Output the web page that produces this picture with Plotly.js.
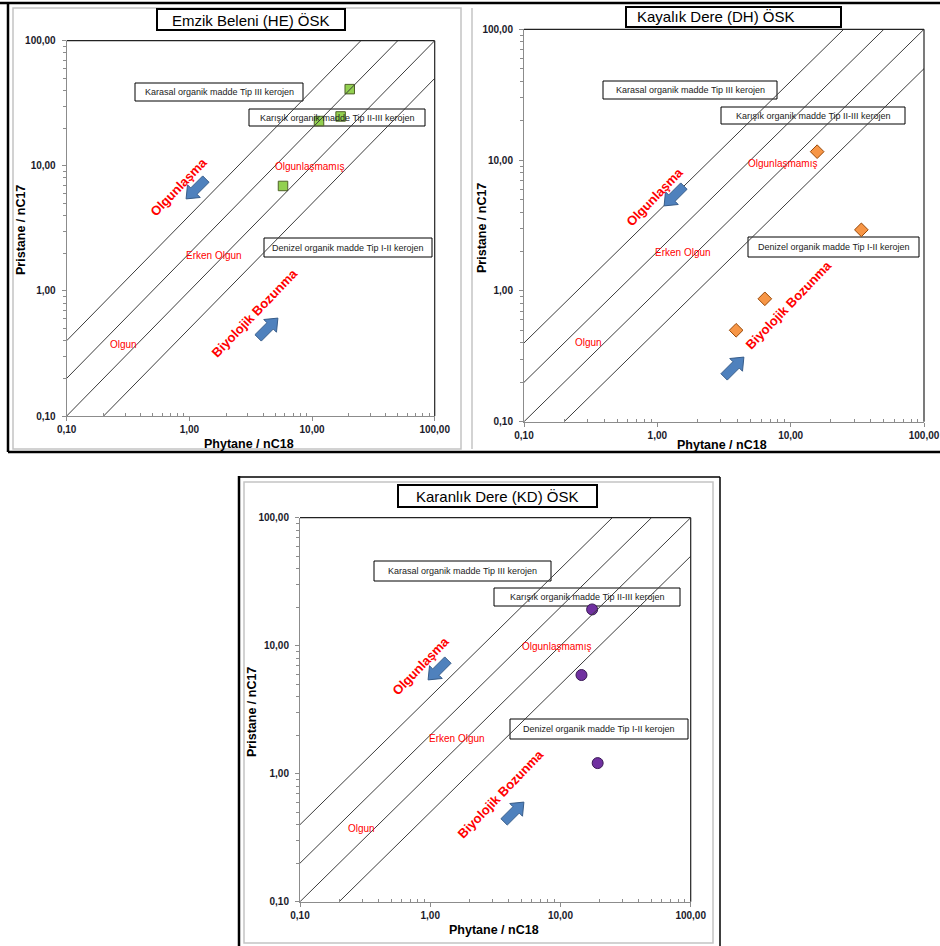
<!DOCTYPE html>
<html><head><meta charset="utf-8">
<script src="https://cdn.plot.ly/plotly-3.0.1.min.js"></script>
<style>html,body{margin:0;padding:0;background:#fff}#chart{width:940px;height:946px}</style>
</head><body><div id="chart"></div>
<script>
// ---------- data ----------
const panelTitles = ["Emzik Beleni (HE) ÖSK", "Kayalık Dere (DH) ÖSK", "Karanlık Dere (KD) ÖSK"];
const HE_phytane = [20.3, 17.1, 11.4, 5.8];
const HE_pristane = [41.0, 24.8, 22.8, 6.9];
const DH_phytane = [15.8, 33.9, 6.4, 3.9];
const DH_pristane = [11.6, 2.93, 0.87, 0.50];
const KD_phytane = [17.5, 14.5, 19.3];
const KD_pristane = [19.2, 5.9, 1.21];
const boundaryRatios = [4, 2, 1, 0.5];           // Pr/nC17 = k * Ph/nC18
const tickValues = [0.1, 1, 10, 100];
const tickLabels = ["0,10", "1,00", "10,00", "100,00"];
const xTitle = "Phytane / nC18";
const yTitle = "Pristane / nC17";
const boxLabels = ["Karasal organik madde Tip III kerojen", "Karışık organik madde Tip II-III kerojen", "Denizel organik madde Tip I-II kerojen"];
const zoneLabels = ["Olgunlaşmamış", "Erken Olgun", "Olgun"];
const trendLabels = ["Olgunlaşma", "Biyolojik Bozunma"];

// ---------- helpers ----------
const W = 940, H = 946;
const px = x => x / W, py = y => 1 - y / H;
const minorVals = [];
[0.1, 1, 10].forEach(d => { for (let k = 2; k <= 9; k++) minorVals.push(+(d * k).toFixed(3)); });

const panels = [
  {sx: "", phy: HE_phytane, pri: HE_pristane, sym: "square", size: 9.5, col: "#92D050", lc: "#4F6228",
   dom: {x: [66.7, 434.7], y: [40.7, 416]},
   title: {box: [157, 9, 345, 30], cx: 251, cy: 20},
   boxes: [[135, 83, 303, 101], [249, 109, 425, 126], [264, 238, 432, 257]],
   zones: [[309, 166], [214, 255], [123, 344]],
   trend: [[178, 187], [254, 313]],
   arrows: [[196, 189], [268, 328]],
   xt: [249, 444], yt: [21, 230]},
  {sx: "2", phy: DH_phytane, pri: DH_pristane, sym: "diamond", size: 10.5, col: "#F79646", lc: "#984807",
   dom: {x: [524, 924], y: [29.3, 421.7]},
   title: {box: [626, 7, 841, 27], cx: 716, cy: 17},
   boxes: [[603, 81, 777, 99], [721, 107, 905, 124], [748, 237, 919, 257]],
   zones: [[782, 163], [683, 252], [588, 342]],
   trend: [[654, 197], [788, 305]],
   arrows: [[674, 196], [734, 367]],
   xt: [722, 445], yt: [482, 228]},
  {sx: "3", phy: KD_phytane, pri: KD_pristane, sym: "circle", size: 11, col: "#7030A0", lc: "#3A1A55",
   dom: {x: [300, 690.7], y: [517.7, 901.7]},
   title: {box: [398, 485, 597, 507], cx: 497, cy: 496},
   boxes: [[374, 561, 551, 581], [494, 588, 680, 606], [510, 719, 688, 739]],
   zones: [[556, 646], [457, 738], [361, 828]],
   trend: [[420, 666], [500, 794]],
   arrows: [[438, 670], [514, 812]],
   xt: [494, 930], yt: [252, 712]}
];

const traces = [], shapes = [], annotations = [];
const layout = {
  width: W, height: H, margin: {l: 0, r: 0, t: 0, b: 0},
  paper_bgcolor: "#fff", plot_bgcolor: "#fff", showlegend: false,
  font: {family: "Arial, Liberation Sans, sans-serif", color: "#000"},
  shapes, annotations
};

function blockArrow(cx, cy, dirx, diry) {
  const len = 28, sw = 4.5, hw = 9, hl = 11;
  const n = Math.hypot(dirx, diry), ux = dirx / n, uy = diry / n, vx = -uy, vy = ux;
  const tail = [cx - ux * len / 2, cy - uy * len / 2], tip = [cx + ux * len / 2, cy + uy * len / 2];
  const hb = [tip[0] - ux * hl, tip[1] - uy * hl];
  const pts = [
    [tail[0] + vx * sw, tail[1] + vy * sw], [hb[0] + vx * sw, hb[1] + vy * sw], [hb[0] + vx * hw, hb[1] + vy * hw],
    tip, [hb[0] - vx * hw, hb[1] - vy * hw], [hb[0] - vx * sw, hb[1] - vy * sw], [tail[0] - vx * sw, tail[1] - vy * sw]
  ];
  return "M" + pts.map(p => px(p[0]).toFixed(5) + "," + py(p[1]).toFixed(5)).join(" L") + " Z";
}

// outer frames
const frameLines = [
  [[0, 3], [940, 3], "#000", 2.5], [[8, 452], [940, 452], "#000", 2.5], [[8, 3], [8, 452], "#000", 2.5],
  [[472, 8], [472, 449], "#c4c4c4", 1.5],
  [[239, 476], [239, 946], "#000", 2.5], [[239, 477], [720, 477], "#000", 1.5], [[720, 477], [720, 946], "#000", 1.5]
];
frameLines.forEach(f => shapes.push({type: "line", xref: "paper", yref: "paper", x0: px(f[0][0]), y0: py(f[0][1]), x1: px(f[1][0]), y1: py(f[1][1]), line: {color: f[2], width: f[3]}, layer: "below"}));
[[13, 8, 461, 449], [244, 482, 713, 943]].forEach(r => shapes.push({type: "rect", xref: "paper", yref: "paper", x0: px(r[0]), x1: px(r[2]), y0: py(r[3]), y1: py(r[1]), line: {color: "#c4c4c4", width: 1.5}, layer: "below"}));

panels.forEach((p, i) => {
  const xa = "x" + p.sx, ya = "y" + p.sx;
  const axBase = {
    type: "log", range: [-1, 2], tickmode: "array", tickvals: tickValues, ticktext: tickLabels,
    showgrid: false, zeroline: false, showline: true, linecolor: "#8c8c8c", linewidth: 1,
    ticks: "outside", ticklen: 4, tickcolor: "#8c8c8c",
    tickfont: {family: "Arial, Liberation Sans, sans-serif", size: 10, weight: "bold", color: "#1a1a2a"},
    fixedrange: true
  };
  layout["xaxis" + p.sx] = Object.assign({}, axBase, {
    domain: [px(p.dom.x[0]), px(p.dom.x[1])], anchor: ya,
    minor: {tickmode: "array", tickvals: minorVals, ticks: "inside", ticklen: 3, tickcolor: "#8c8c8c", showgrid: false}
  });
  layout["yaxis" + p.sx] = Object.assign({}, axBase, {
    domain: [py(p.dom.y[1]), py(p.dom.y[0])], anchor: xa, ticklabelstandoff: 4,
    minor: {tickmode: "array", tickvals: minorVals, ticks: "outside", ticklen: 3, tickcolor: "#8c8c8c", showgrid: false}
  });

  // sample points
  traces.push({type: "scatter", mode: "markers", x: p.phy, y: p.pri, xaxis: xa, yaxis: ya,
    marker: {symbol: p.sym, size: p.size, color: p.col, line: {color: p.lc, width: 1}}, hoverinfo: "x+y"});
  // boundary lines y = k x, clipped to the axes range
  boundaryRatios.forEach(k => {
    const x0 = Math.max(0.1, 0.1 / k), x1 = Math.min(100, 100 / k);
    traces.push({type: "scatter", mode: "lines", x: [x0, x1], y: [k * x0, k * x1], xaxis: xa, yaxis: ya,
      line: {color: "#3c3c3c", width: 1}, hoverinfo: "skip"});
  });

  // frame top/right
  shapes.push({type: "line", xref: xa + " domain", yref: ya + " domain", x0: 0, x1: 1, y0: 1, y1: 1, line: {color: "#222", width: 1.2}});
  shapes.push({type: "line", xref: xa + " domain", yref: ya + " domain", x0: 1, x1: 1, y0: 0, y1: 1, line: {color: "#222", width: 1.2}});

  // title box
  const tb = p.title.box;
  shapes.push({type: "rect", xref: "paper", yref: "paper", x0: px(tb[0]), x1: px(tb[2]), y0: py(tb[3]), y1: py(tb[1]), line: {color: "#000", width: 2}, fillcolor: "#fff"});
  annotations.push({xref: "paper", yref: "paper", x: px(p.title.cx), y: py(p.title.cy), text: panelTitles[i], showarrow: false,
    font: {size: 15, color: "#000"}, xanchor: "center", yanchor: "middle"});

  // kerogen boxes
  p.boxes.forEach((b, j) => {
    shapes.push({type: "rect", xref: "paper", yref: "paper", x0: px(b[0]), x1: px(b[2]), y0: py(b[3]), y1: py(b[1]), line: {color: "#000", width: 1}, fillcolor: "#fff", layer: "below"});
    annotations.push({xref: "paper", yref: "paper", x: px((b[0] + b[2]) / 2), y: py((b[1] + b[3]) / 2), text: boxLabels[j], showarrow: false,
      font: {size: 9, color: "#222"}, xanchor: "center", yanchor: "middle"});
  });
  // zone labels
  p.zones.forEach((z, j) => annotations.push({xref: "paper", yref: "paper", x: px(z[0]), y: py(z[1]), text: zoneLabels[j], showarrow: false,
    font: {size: 10, color: "#FF0000"}, xanchor: "center", yanchor: "middle"}));
  // trend labels
  p.trend.forEach((t, j) => annotations.push({xref: "paper", yref: "paper", x: px(t[0]), y: py(t[1]), text: trendLabels[j], showarrow: false,
    textangle: -46, font: {size: 13, color: "#FF0000", weight: "bold"}, xanchor: "center", yanchor: "middle"}));
  // arrows
  shapes.push({type: "path", xref: "paper", yref: "paper", path: blockArrow(p.arrows[0][0], p.arrows[0][1], -1, 1), fillcolor: "#4F81BD", line: {color: "#385D8A", width: 1}});
  shapes.push({type: "path", xref: "paper", yref: "paper", path: blockArrow(p.arrows[1][0], p.arrows[1][1], 1, -1), fillcolor: "#4F81BD", line: {color: "#385D8A", width: 1}});
  // axis titles
  annotations.push({xref: "paper", yref: "paper", x: px(p.xt[0]), y: py(p.xt[1]), text: xTitle, showarrow: false,
    font: {size: 12.5, weight: "bold", color: "#000"}, xanchor: "center", yanchor: "middle"});
  annotations.push({xref: "paper", yref: "paper", x: px(p.yt[0]), y: py(p.yt[1]), text: yTitle, showarrow: false, textangle: -90,
    font: {size: 12.5, weight: "bold", color: "#000"}, xanchor: "center", yanchor: "middle"});
});

Plotly.newPlot("chart", traces, layout, {displayModeBar: false, staticPlot: true});
</script></body></html>
